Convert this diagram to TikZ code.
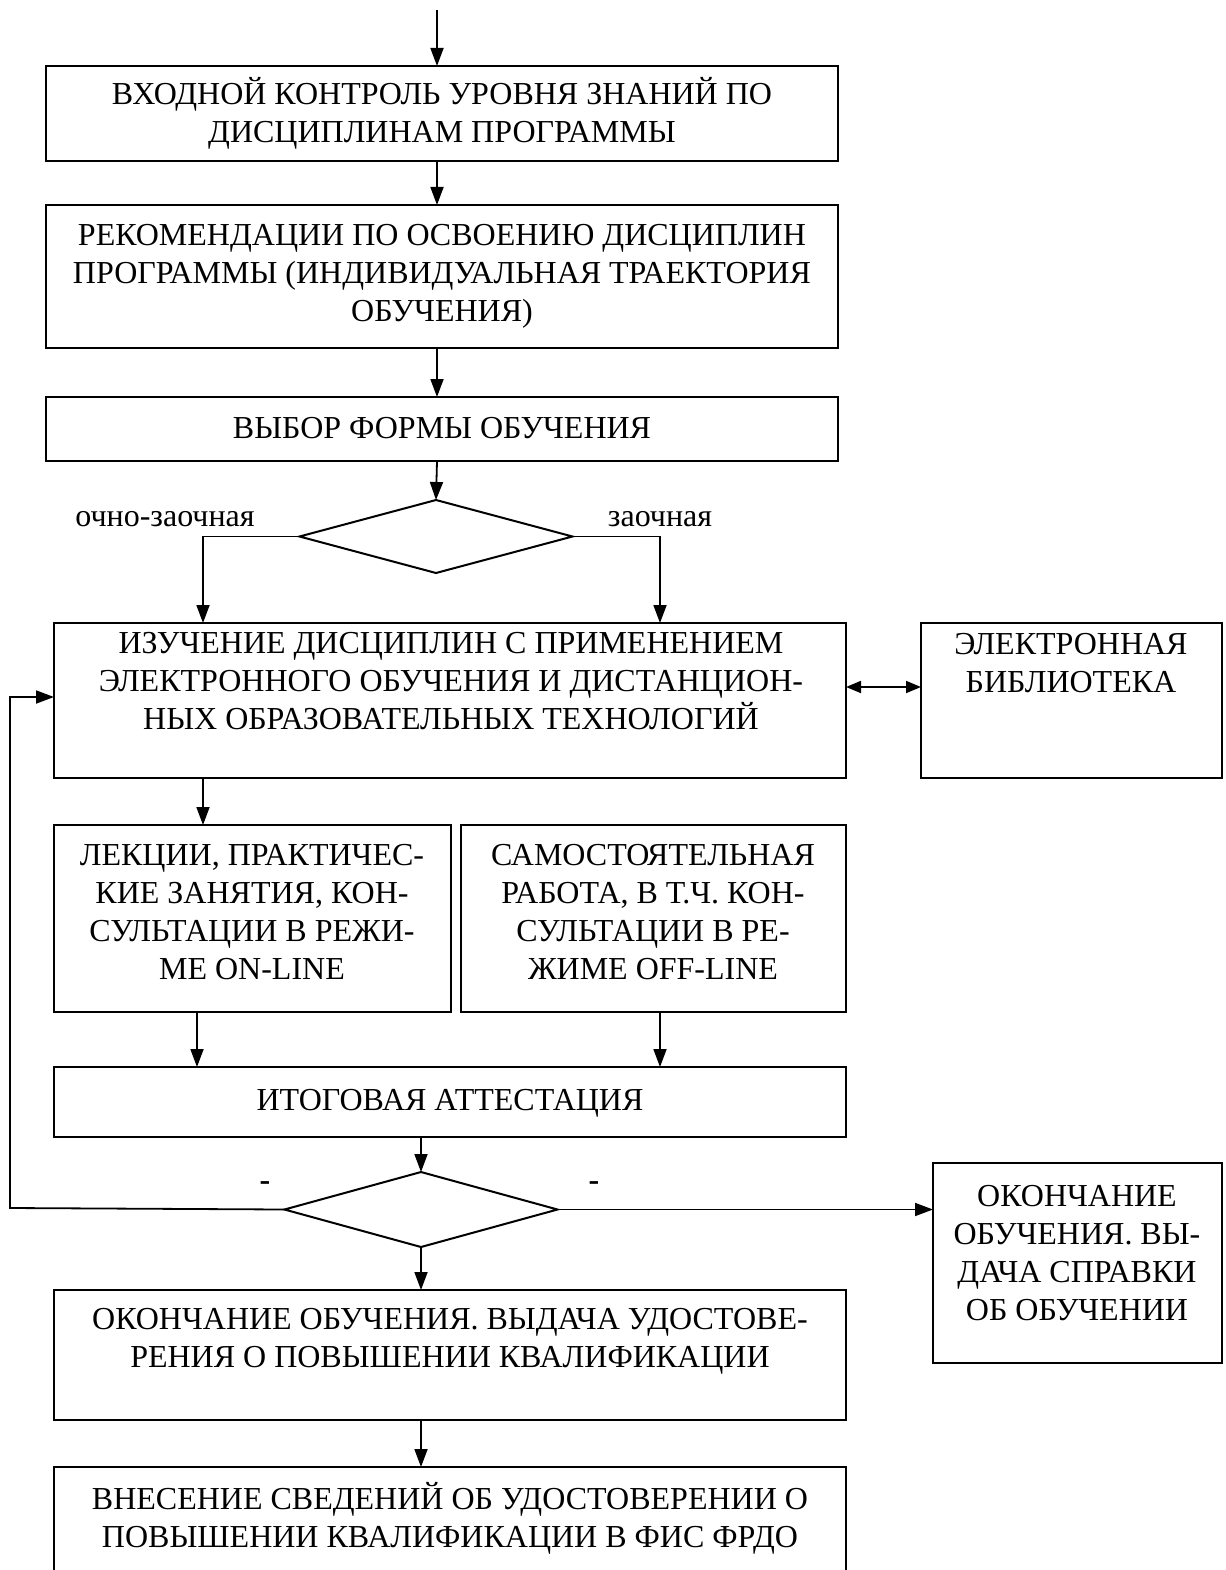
\documentclass[tikz,border=0pt]{standalone}
\usepackage{fontspec}
\setmainfont{Liberation Serif}
\usetikzlibrary{arrows.meta,shapes.geometric,calc}
\begin{document}
\begin{tikzpicture}[x=1pt,y=-1pt,
  box/.style={draw,line width=2pt,rectangle,inner sep=0pt,outer sep=0pt},
  dia/.style={draw,line width=2pt,diamond,inner sep=0pt,outer sep=0pt},
  txt/.style={inner sep=0pt,align=center,font=\fontsize{32}{38}\selectfont},
  arr/.style={line width=1.8pt,-{Triangle[length=18pt,width=13pt]}},
  darr/.style={line width=1.8pt,{Triangle[length=15pt,width=12pt]}-{Triangle[length=15pt,width=12pt]}}]
\useasboundingbox (0,0) rectangle (1225,1570);
% boxes
\node[box,minimum width=792pt,minimum height=95pt] (b1) at (442,113.5) {};
\node[box,minimum width=792pt,minimum height=143pt] (b2) at (442,276.5) {};
\node[box,minimum width=792pt,minimum height=64pt] (b3) at (442,429) {};
\node[dia,minimum width=273pt,minimum height=73pt] (d1) at (436,536.5) {};
\node[box,minimum width=792pt,minimum height=155pt] (b4) at (450,700.5) {};
\node[box,minimum width=301pt,minimum height=155pt] (lib) at (1071.5,700.5) {};
\node[box,minimum width=397pt,minimum height=187pt] (b5) at (252.5,918.5) {};
\node[box,minimum width=385pt,minimum height=187pt] (b6) at (653.5,918.5) {};
\node[box,minimum width=792pt,minimum height=70pt] (b7) at (450,1102) {};
\node[dia,minimum width=273pt,minimum height=75pt] (d2) at (421,1209.5) {};
\node[box,minimum width=289pt,minimum height=200pt] (b9) at (1077.5,1263) {};
\node[box,minimum width=792pt,minimum height=130pt] (b8) at (450,1355) {};
\node[box,minimum width=792pt,minimum height=110pt] (b10) at (450,1522) {};
% texts
\node[txt] (t1) at (442,113) {ВХОДНОЙ КОНТРОЛЬ УРОВНЯ ЗНАНИЙ ПО\\ДИСЦИПЛИНАМ ПРОГРАММЫ};
\node[txt] (t2) at (442,276) {РЕКОМЕНДАЦИИ ПО ОСВОЕНИЮ ДИСЦИПЛИН\\ПРОГРАММЫ (ИНДИВИДУАЛЬНАЯ ТРАЕКТОРИЯ\\ОБУЧЕНИЯ)};
\node[txt] (t3) at (442,428) {ВЫБОР ФОРМЫ ОБУЧЕНИЯ};
\node[txt] (lo) at (165,519) {очно-заочная};
\node[txt] (lz) at (660,519) {заочная};
\node[txt] (t4) at (451,681) {ИЗУЧЕНИЕ ДИСЦИПЛИН С ПРИМЕНЕНИЕМ\\ЭЛЕКТРОННОГО ОБУЧЕНИЯ И ДИСТАНЦИОН-\\НЫХ ОБРАЗОВАТЕЛЬНЫХ ТЕХНОЛОГИЙ};
\node[txt] (tl) at (1071,663) {ЭЛЕКТРОННАЯ\\БИБЛИОТЕКА};
\node[txt] (t5) at (252,912) {ЛЕКЦИИ, ПРАКТИЧЕС-\\КИЕ ЗАНЯТИЯ, КОН-\\СУЛЬТАЦИИ В РЕЖИ-\\МЕ ON-LINE};
\node[txt] (t6) at (653,912) {САМОСТОЯТЕЛЬНАЯ\\РАБОТА, В Т.Ч. КОН-\\СУЛЬТАЦИИ В РЕ-\\ЖИМЕ OFF-LINE};
\node[txt] (t7) at (450,1103) {ИТОГОВАЯ АТТЕСТАЦИЯ};
\node[txt,font=\fontsize{32}{38}\selectfont\bfseries] (m1) at (265,1186) {-};
\node[txt,font=\fontsize{32}{38}\selectfont\bfseries] (m2) at (594,1186) {-};
\node[txt] (t9) at (1077,1253) {ОКОНЧАНИЕ\\ОБУЧЕНИЯ. ВЫ-\\ДАЧА СПРАВКИ\\ОБ ОБУЧЕНИИ};
\node[txt] (t8) at (450,1341) {ОКОНЧАНИЕ ОБУЧЕНИЯ. ВЫДАЧА УДОСТОВЕ-\\РЕНИЯ О ПОВЫШЕНИИ КВАЛИФИКАЦИИ};
\node[txt] (t10) at (450,1518) {ВНЕСЕНИЕ СВЕДЕНИЙ ОБ УДОСТОВЕРЕНИИ О\\ПОВЫШЕНИИ КВАЛИФИКАЦИИ В ФИС ФРДО};
% connectors
\coordinate (start) at (437,10);
\draw[arr] (start) -- (start |- b1.north);
\draw[arr] (start |- b1.south) -- (start |- b2.north);
\draw[arr] (start |- b2.south) -- (start |- b3.north);
\draw[arr] (start |- b3.south) -- (d1.north);
\draw[arr] (d1.west) -| ($(b4.north west)+(149,0)$);
\draw[arr] (d1.east) -| ($(b4.north west)+(606,0)$);
\draw[darr] ($(b4.east)+(0,-13.5)$) -- ($(lib.west)+(0,-13.5)$);
\draw[arr] ($(b4.south west)+(149,0)$) coordinate (p1) -- (p1 |- b5.north);
\draw[arr] ($(b5.south west)+(143,0)$) coordinate (p2) -- (p2 |- b7.north);
\draw[arr] ($(b6.south west)+(199,0)$) coordinate (p3) -- (p3 |- b7.north);
\draw[arr] (d2.north |- b7.south) -- (d2.north);
\coordinate (fb) at (10,1208);
\draw[arr] (d2.west) -- (fb) |- ($(b4.west)+(0,-3.5)$);
\draw[arr] (d2.east) -- (b9.west |- d2.east);
\draw[arr] (d2.south) -- (d2.south |- b8.north);
\draw[arr] (d2.south |- b8.south) -- (d2.south |- b10.north);
\end{tikzpicture}
\end{document}
